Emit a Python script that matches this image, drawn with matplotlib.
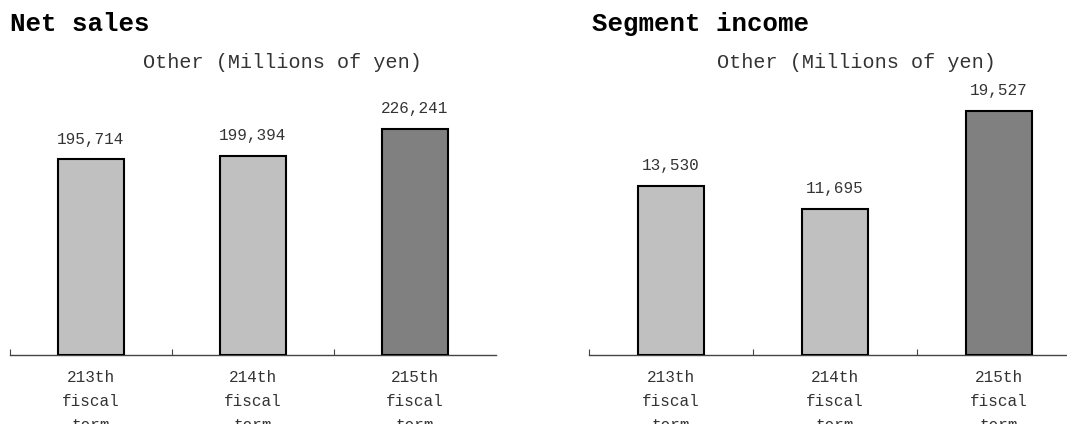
import matplotlib
matplotlib.use("Agg")
import matplotlib.pyplot as plt
from matplotlib.ticker import FixedLocator

plt.rcParams["font.family"] = ["Liberation Mono", "DejaVu Sans Mono"]

terms = ["213th\nfiscal\nterm", "214th\nfiscal\nterm", "215th\nfiscal\nterm"]
net_sales = [195714, 199394, 226241]
segment_income = [13530, 11695, 19527]
bar_colors = ["#c0c0c0", "#c0c0c0", "#808080"]

W, H = 1067, 424
fig = plt.figure(figsize=(W / 100, H / 100), dpi=100)

bottom = (H - 355) / H
height = 280 / H


def panel(rect, values, ymax, xmax):
    ax = fig.add_axes(rect)
    x = range(len(values))
    ax.bar(x, values, width=0.405, color=bar_colors, edgecolor="black", linewidth=1.5, zorder=3)
    for xi, v in zip(x, values):
        ax.annotate(f"{v:,}", (xi, v), xytext=(0, 9), textcoords="offset points",
                    ha="center", va="bottom", fontsize=11.5, color="#333333")
    ax.set_xlim(-0.5, xmax)
    ax.set_ylim(0, ymax)
    for s in ("top", "right", "left"):
        ax.spines[s].set_visible(False)
    ax.spines["bottom"].set_color("#444444")
    ax.spines["bottom"].set_linewidth(1.0)
    ax.set_yticks([])
    ax.xaxis.set_major_locator(FixedLocator(list(x)))
    ax.set_xticklabels(terms, fontsize=11.5, color="#333333", linespacing=1.75)
    ax.tick_params(axis="x", which="major", length=0, pad=11)
    ax.xaxis.set_minor_locator(FixedLocator([-0.5, 0.5, 1.5]))
    ax.tick_params(axis="x", which="minor", direction="in", length=4, width=0.8, color="#444444")
    return ax


panel([10 / W, bottom, 486 / W, height], net_sales, 280000, 2.5)
panel([589 / W, bottom, 478 / W, height], segment_income, 22400, 2.415)

fig.text(10 / W, 1 - 24 / H, "Net sales", fontsize=18.5, fontweight="bold", va="center", ha="left")
fig.text(592 / W, 1 - 24 / H, "Segment income", fontsize=18.5, fontweight="bold", va="center", ha="left")
fig.text(282 / W, 1 - 62 / H, "Other (Millions of yen)", fontsize=14.5, color="#333333", va="center", ha="center")
fig.text(856 / W, 1 - 62 / H, "Other (Millions of yen)", fontsize=14.5, color="#333333", va="center", ha="center")

fig.savefig("out.png", dpi=100)
